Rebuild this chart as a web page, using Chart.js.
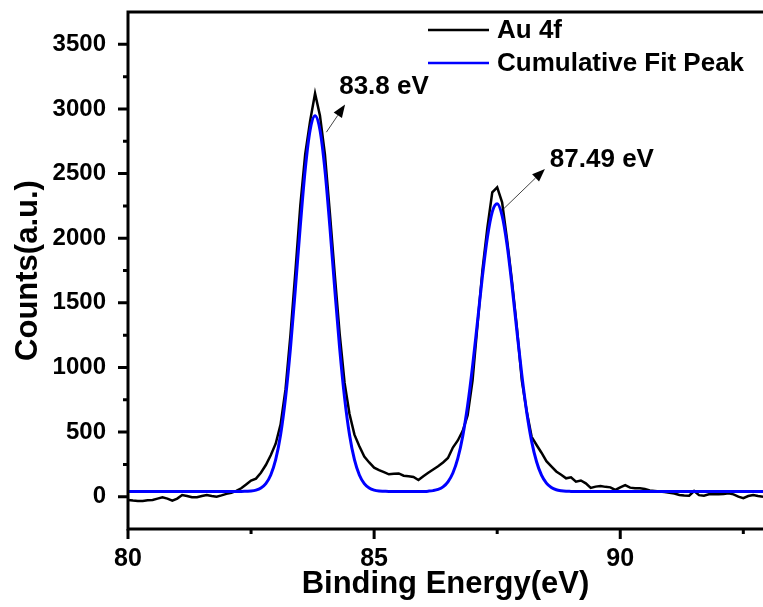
<!DOCTYPE html>
<html><head><meta charset="utf-8">
<script src="https://cdn.jsdelivr.net/npm/chart.js@4.4.1/dist/chart.umd.min.js"></script>
<style>html,body{margin:0;padding:0;background:#fff;}#wrap{width:763px;height:607px;}</style>
</head><body><div id="wrap"><canvas id="c" width="763" height="607"></canvas></div>
<script>
// ---- data ----
const energies = [
80.0,80.1,80.2,80.3,80.4,80.5,80.6,80.7,80.8,80.9,
81.0,81.1,81.2,81.3,81.4,81.5,81.6,81.7,81.8,81.9,
82.0,82.1,82.2,82.3,82.4,82.5,82.6,82.7,82.8,82.9,
83.0,83.1,83.2,83.3,83.4,83.5,83.6,83.7,83.8,83.9,
84.0,84.1,84.2,84.3,84.4,84.5,84.6,84.7,84.8,84.9,
85.0,85.1,85.2,85.3,85.4,85.5,85.6,85.7,85.8,85.9,
86.0,86.1,86.2,86.3,86.4,86.5,86.6,86.7,86.8,86.9,
87.0,87.1,87.2,87.3,87.4,87.5,87.6,87.7,87.8,87.9,
88.0,88.1,88.2,88.3,88.4,88.5,88.6,88.7,88.8,88.9,
89.0,89.1,89.2,89.3,89.4,89.5,89.6,89.7,89.8,89.9,
90.0,90.1,90.2,90.3,90.4,90.5,90.6,90.7,90.8,90.9,
91.0,91.1,91.2,91.3,91.4,91.5,91.6,91.7,91.8,91.9,
92.0,92.1,92.2,92.3,92.4,92.5,92.6,92.7,92.8,92.9];
const au4f = [
-25,-30,-33,-33,-28,-25,-15,-5,-15,-30,
-15,13,5,-5,-5,5,13,5,0,10,
22,30,45,65,95,125,140,185,245,320,
410,560,830,1250,1740,2250,2650,2908,3120,2948,
2650,2200,1720,1260,880,640,480,390,310,265,
225,206,190,173,178,180,162,158,152,129,
158,185,210,235,265,300,380,435,510,630,
900,1330,1750,2080,2355,2394,2278,1990,1670,1310,
900,660,463,400,340,275,235,195,170,142,
150,116,125,103,68,78,83,76,72,52,
72,90,70,65,65,60,48,44,40,36,
31,25,13,10,8,44,12,8,18,21,
19,20,26,18,0,-12,5,13,5,0];
const cumulativeFit = [
40,40,40,40,40,40,40,40,40,40,
40,40,40,40,40,40,40,40,40,40,
40,40,40,40,42,44,51,67,101,168,
286,479,765,1148,1608,2094,2531,2837,2947,2837,
2531,2094,1608,1148,765,479,286,168,101,67,
51,44,42,40,40,40,40,40,40,40,
41,43,47,56,76,115,183,296,468,707,
1009,1355,1704,2004,2204,2266,2175,1951,1636,1284,
944,654,428,270,166,105,71,54,46,42,
41,40,40,40,40,40,40,40,40,40,
40,40,40,40,40,40,40,40,40,40,
40,40,40,40,40,40,40,40,40,40,
40,40,40,40,40,40,40,40,40,40];
const seriesNames = ['Au 4f', 'Cumulative Fit Peak'];
const xTickValues = [80, 85, 90];
const xMinorTicks = [82.5, 87.5, 92.5];
const yTickValues = [0, 500, 1000, 1500, 2000, 2500, 3000, 3500];
const yMinorTicks = [250, 750, 1250, 1750, 2250, 2750, 3250];
const peakLabels = ['83.8 eV', '87.49 eV'];
const arrowFrom = [[84.03, 2820], [87.63, 2227]];
const arrowTo = [[84.41, 3034], [88.47, 2536]];
const labelAt = [[84.29, 3168], [88.57, 2608]];

const FONT = '"Liberation Sans", Arial, sans-serif';

const framePlugin = {
  id: 'frame',
  afterDatasetsDraw(chart) {
    const {ctx, chartArea: a, scales: {x, y}} = chart;
    ctx.save();
    ctx.strokeStyle = '#000';
    ctx.lineWidth = 3;
    ctx.lineCap = 'butt';
    ctx.beginPath();
    ctx.moveTo(a.left, a.top); ctx.lineTo(a.right, a.top);
    ctx.moveTo(a.left, a.top - 1.5); ctx.lineTo(a.left, a.bottom + 1.5);
    ctx.moveTo(a.left - 1.5, a.bottom); ctx.lineTo(a.right, a.bottom);
    ctx.stroke();
    ctx.beginPath();
    yTickValues.forEach(v => { const p = y.getPixelForValue(v); ctx.moveTo(a.left - 10, p); ctx.lineTo(a.left, p); });
    yMinorTicks.forEach(v => { const p = y.getPixelForValue(v); ctx.moveTo(a.left - 5, p); ctx.lineTo(a.left, p); });
    xTickValues.forEach(v => { const p = x.getPixelForValue(v); ctx.moveTo(p, a.bottom); ctx.lineTo(p, a.bottom + 10); });
    xMinorTicks.forEach(v => { const p = x.getPixelForValue(v); ctx.moveTo(p, a.bottom); ctx.lineTo(p, a.bottom + 5); });
    ctx.stroke();

    // annotations
    ctx.fillStyle = '#000';
    ctx.font = 'bold 26px ' + FONT;
    ctx.textBaseline = 'middle';
    ctx.textAlign = 'left';
    peakLabels.forEach((t, i) => {
      ctx.fillText(t, x.getPixelForValue(labelAt[i][0]), y.getPixelForValue(labelAt[i][1]));
      const x0 = x.getPixelForValue(arrowFrom[i][0]), y0 = y.getPixelForValue(arrowFrom[i][1]);
      const x1 = x.getPixelForValue(arrowTo[i][0]), y1 = y.getPixelForValue(arrowTo[i][1]);
      const ang = Math.atan2(y1 - y0, x1 - x0);
      const hl = 13, hw = 5;
      const bx = x1 - hl * Math.cos(ang), by = y1 - hl * Math.sin(ang);
      ctx.strokeStyle = '#444';
      ctx.lineWidth = 1;
      ctx.beginPath(); ctx.moveTo(x0, y0); ctx.lineTo(bx, by); ctx.stroke();
      ctx.beginPath();
      ctx.moveTo(x1, y1);
      ctx.lineTo(bx + hw * Math.sin(ang), by - hw * Math.cos(ang));
      ctx.lineTo(bx - hw * Math.sin(ang), by + hw * Math.cos(ang));
      ctx.closePath(); ctx.fill();
    });

    // legend
    ctx.font = 'bold 26px ' + FONT;
    chart.data.datasets.forEach((ds, i) => {
      const ly = 30 + i * 33;
      ctx.strokeStyle = ds.borderColor;
      ctx.lineWidth = 2.5;
      ctx.beginPath(); ctx.moveTo(428, ly); ctx.lineTo(489, ly); ctx.stroke();
      ctx.fillStyle = '#000';
      ctx.fillText(ds.label, 497, ly + 1);
    });
    ctx.restore();
  }
};

new Chart(document.getElementById('c'), {
  type: 'line',
  data: {
    datasets: [
      { label: seriesNames[0], data: energies.map((e, i) => ({x: e, y: au4f[i]})),
        borderColor: '#000000', borderWidth: 2.5, pointRadius: 0, tension: 0, order: 1 },
      { label: seriesNames[1], data: energies.map((e, i) => ({x: e, y: cumulativeFit[i]})),
        borderColor: '#0000ff', borderWidth: 3, pointRadius: 0, cubicInterpolationMode: 'monotone', order: 0 }
    ]
  },
  options: {
    responsive: false,
    devicePixelRatio: 1,
    animation: false,
    layout: { padding: { top: 12, right: 0, left: 0, bottom: 0 } },
    plugins: { legend: { display: false }, tooltip: { enabled: false } },
    scales: {
      x: {
        type: 'linear', min: 80, max: 92.9,
        afterFit: s => { s.height = 78; s.paddingLeft = 0; s.paddingRight = 0; },
        afterBuildTicks: s => { s.ticks = xTickValues.map(v => ({value: v})); },
        grid: { display: false }, border: { display: false },
        ticks: { color: '#000', padding: 7, callback: v => String(v),
                 font: { family: FONT, size: 25, weight: 'bold' }, maxRotation: 0 },
        title: { display: true, text: 'Binding Energy(eV)', color: '#000', padding: { top: 0, bottom: 4 },
                 font: { family: FONT, size: 31, weight: 'bold' } }
      },
      y: {
        type: 'linear', min: -250, max: 3750,
        afterFit: s => { s.width = 128; s.paddingTop = 0; s.paddingBottom = 0; },
        afterBuildTicks: s => { s.ticks = yTickValues.map(v => ({value: v})); },
        grid: { display: false }, border: { display: false },
        ticks: { color: '#000', padding: 14, callback: v => String(v),
                 font: { family: FONT, size: 24, weight: 'bold' } },
        title: { display: true, text: 'Counts(a.u.)', color: '#000', padding: { top: 10, bottom: 0 },
                 font: { family: FONT, size: 31, weight: 'bold' } }
      }
    }
  },
  plugins: [framePlugin]
});
</script></body></html>
